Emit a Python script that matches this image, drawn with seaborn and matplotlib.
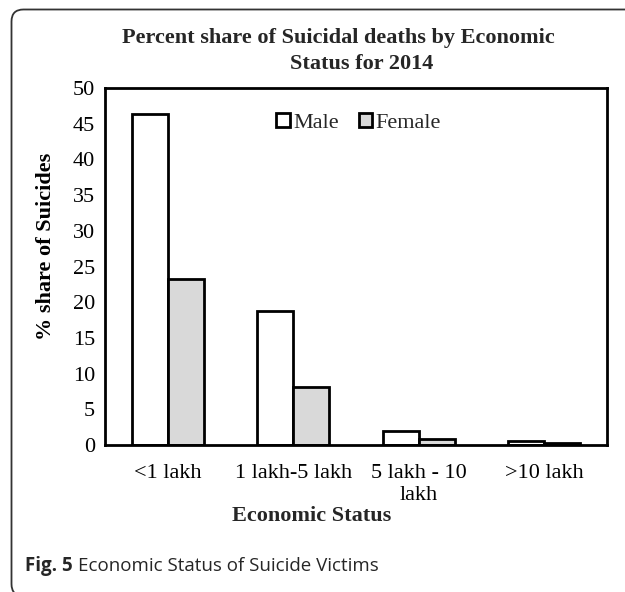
import matplotlib
matplotlib.use("Agg")
import matplotlib.pyplot as plt
from matplotlib.patches import Patch, PathPatch
from matplotlib.path import Path
import seaborn as sns
import pandas as pd

# Share of suicides (%) by annual income bracket, 2014
categories = ["<1 lakh", "1 lakh-5 lakh", "5 lakh - 10\nlakh", ">10 lakh"]
male = [46.4, 18.8, 2.0, 0.5]
female = [23.2, 8.1, 0.8, 0.3]
series = ["Male", "Female"]
y_ticks = list(range(0, 51, 5))

df = pd.DataFrame({
    "status": categories * 2,
    "sex": ["Male"] * len(categories) + ["Female"] * len(categories),
    "share": male + female,
})

sns.set_theme(style="white")
plt.rcParams["font.family"] = ["Liberation Serif", "DejaVu Serif"]

W, H, DPI = 625, 592, 100
fig = plt.figure(figsize=(W / DPI, H / DPI), dpi=DPI)
ax = fig.add_axes([105 / W, 1 - 445 / H, (607 - 105) / W, (445 - 88) / H])

palette = {"Male": "#ffffff", "Female": "#d9d9d9"}
sns.barplot(data=df, x="status", y="share", hue="sex", hue_order=series,
            order=categories, palette=palette, width=0.574, saturation=1,
            edgecolor="black", linewidth=2, legend=False, ax=ax)

ax.set_xlim(-0.5, len(categories) - 0.5)
ax.set_ylim(0, 50)
ax.set_yticks(y_ticks)
ax.set_yticklabels([str(t) for t in y_ticks])
ax.tick_params(axis="both", length=0, labelsize=16, colors="black")
ax.tick_params(axis="y", pad=7)
ax.tick_params(axis="x", pad=13.5)
for lbl in ax.get_xticklabels():
    lbl.set_linespacing(1.2)
for s in ax.spines.values():
    s.set_visible(True)
    s.set_color("black")
    s.set_linewidth(2)
ax.set_xlabel("")
ax.set_ylabel("% share of Suicides", fontsize=16, fontweight="bold",
              color="black")
ax.yaxis.set_label_coords(-0.098, 0.555)

handles = [Patch(facecolor=palette[s], edgecolor="black", linewidth=2, label=s)
           for s in series]
ax.legend(handles=handles, loc="center", bbox_to_anchor=(0.505, 0.903), ncol=2,
          frameon=False, fontsize=16, handlelength=0.6, handleheight=0.6,
          handletextpad=0.15, columnspacing=0.9, borderpad=0)

# Title and axis caption
fig.text(338 / W, 1 - 38 / H, "Percent share of Suicidal deaths by Economic",
         ha="center", va="center", fontsize=16, fontweight="bold")
fig.text(362 / W, 1 - 64 / H, "Status for 2014",
         ha="center", va="center", fontsize=16, fontweight="bold")
fig.text(312 / W, 1 - 516 / H, "Economic Status",
         ha="center", va="center", fontsize=16, fontweight="bold")

# Figure caption below the chart
fig.canvas.draw()
t1 = fig.text(25 / W, 1 - 566 / H, "Fig. 5", ha="left", va="center",
              fontsize=13.5, fontweight="bold", family="Open Sans")
bb = t1.get_window_extent(renderer=fig.canvas.get_renderer())
fig.text((bb.x1 + 5) / W, 1 - 566 / H, "Economic Status of Suicide Victims",
         ha="left", va="center", fontsize=13.5, family="Open Sans")

# Open rounded frame: top and left edges, running off the right and bottom
r = 12 / DPI
xl, yt, yb, xr = 11.5 / DPI, (H - 9.5) / DPI, -4 / DPI, (W + 20) / DPI
verts = [(xr, yt), (xl + r, yt), (xl, yt), (xl, yt - r),
         (xl, yb + r), (xl, yb), (xl + r, yb), (xr, yb)]
codes = [Path.MOVETO, Path.LINETO, Path.CURVE3, Path.CURVE3,
         Path.LINETO, Path.CURVE3, Path.CURVE3, Path.LINETO]
frame = PathPatch(Path(verts, codes), transform=fig.dpi_scale_trans,
                  facecolor="none", edgecolor="#333333", linewidth=1.3)
fig.add_artist(frame)

fig.savefig("out.png", dpi=DPI)
